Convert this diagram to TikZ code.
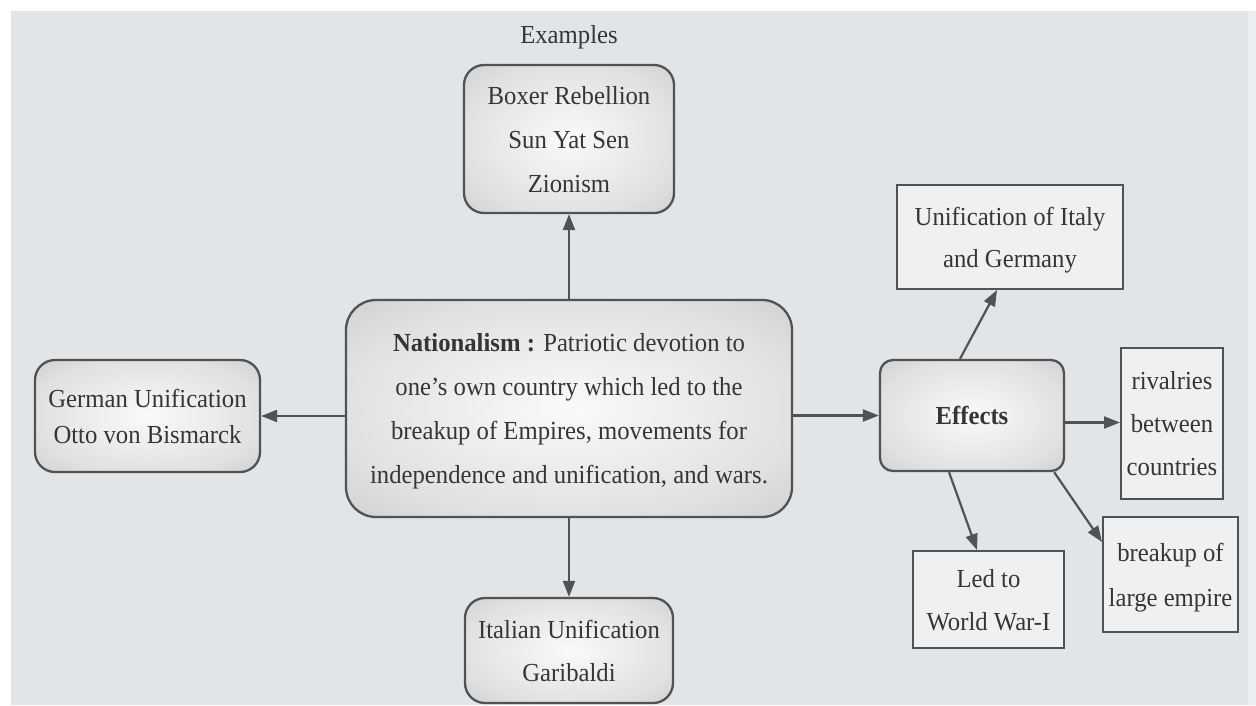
\documentclass[tikz,border=0pt]{standalone}
\usepackage{fontspec}
\setmainfont[FakeStretch=0.95]{Liberation Serif}
\usetikzlibrary{arrows.meta}

\definecolor{bgpanel}{HTML}{E1E5E8}
\definecolor{bgstripe}{HTML}{EBEEF0}
\definecolor{ink}{HTML}{353535}
\definecolor{edge}{HTML}{505356}
\definecolor{paper}{HTML}{EFF0F2}

% soft grey panel: light in the middle, darker towards the rim
\pgfdeclareradialshading{panelshade}{\pgfpoint{0bp}{0bp}}{%
  color(0bp)=(white!96!gray); color(26bp)=(gray!24);
  color(50bp)=(gray!54); color(72bp)=(gray!66)}

\tikzset{
  txt/.style={font=\fontsize{26}{44}\selectfont, text=ink},
  roundbox/.style={txt, draw=edge, line width=2.3pt, rounded corners=20pt,
    shade, shading=panelshade, align=center, inner sep=0pt, text depth=0pt},
  flatbox/.style={txt, draw=edge, line width=2pt, fill=paper,
    align=center, inner sep=0pt, text depth=0pt},
  link/.style={draw=edge, line width=2.2pt, -{Triangle[length=16pt,width=12pt]}}
}

\begin{document}
\begin{tikzpicture}[x=1pt, y=-1pt]
\useasboundingbox (0,0) rectangle (1256,705);

% backdrop
\fill[white] (0,0) rectangle (1256,705);
\fill[bgpanel] (11,11) rectangle (1248,705);
\fill[bgstripe] (1248,11) rectangle (1256,705);

% central concept and its examples
\node[txt] (exlabel) at (569,37) {Examples};
\node[roundbox, minimum width=210pt, minimum height=148pt] (ex) at (569,139)
  {Boxer Rebellion\\Sun Yat Sen\\Zionism};
\node[roundbox, rounded corners=30pt, minimum width=446pt, minimum height=217pt] (nat) at (569,408.5)
  {\textbf{Nationalism :} Patriotic devotion to\\one's own country which led to the\\breakup of Empires, movements for\\independence and unification, and wars.};
\node[roundbox, font=\fontsize{26}{36}\selectfont, minimum width=225pt, minimum height=112pt] (ger) at (147.5,416)
  {German Unification\\Otto von Bismarck};
\node[roundbox, font=\fontsize{26}{43}\selectfont, minimum width=208pt, minimum height=105pt] (ita) at (569,650.5)
  {Italian Unification\\Garibaldi};

% effects branch
\node[roundbox, rounded corners=13pt, minimum width=184pt, minimum height=111pt] (eff) at (972,415.5)
  {\textbf{Effects}};
\node[flatbox, font=\fontsize{26}{42}\selectfont, minimum width=226pt, minimum height=104pt] (uni) at (1010,237)
  {Unification of Italy\\and Germany};
\node[flatbox, font=\fontsize{26}{43}\selectfont, minimum width=102pt, minimum height=151pt] (riv) at (1172,423.5)
  {rivalries\\between\\countries};
\node[flatbox, font=\fontsize{26}{45}\selectfont, minimum width=135pt, minimum height=115pt] (brk) at (1170.5,574.5)
  {breakup of\\large empire};
\node[flatbox, font=\fontsize{26}{43}\selectfont, minimum width=151pt, minimum height=97pt] (led) at (988.5,599.5)
  {Led to\\World War-I};

% connectors
\draw[link] (nat.north) -- (ex.south);
\draw[link] (nat.south) -- (ita.north);
\draw[link] (nat.west |- ger.east) -- (ger.east);
\draw[link] (nat.east |- eff.west) -- (eff.west);
\draw[link] ([xshift=-12pt]eff.north) -- ([xshift=-13pt]uni.south);
\draw[link] ([yshift=-7pt]eff.east) -- ([yshift=-7pt]eff.east -| riv.west);
\draw[link] ([xshift=-11pt]eff.south east) -- ([yshift=-26pt]brk.north west);
\draw[link] ([xshift=-23pt]eff.south) -- ([xshift=-11.5pt]led.north);
\end{tikzpicture}
\end{document}
